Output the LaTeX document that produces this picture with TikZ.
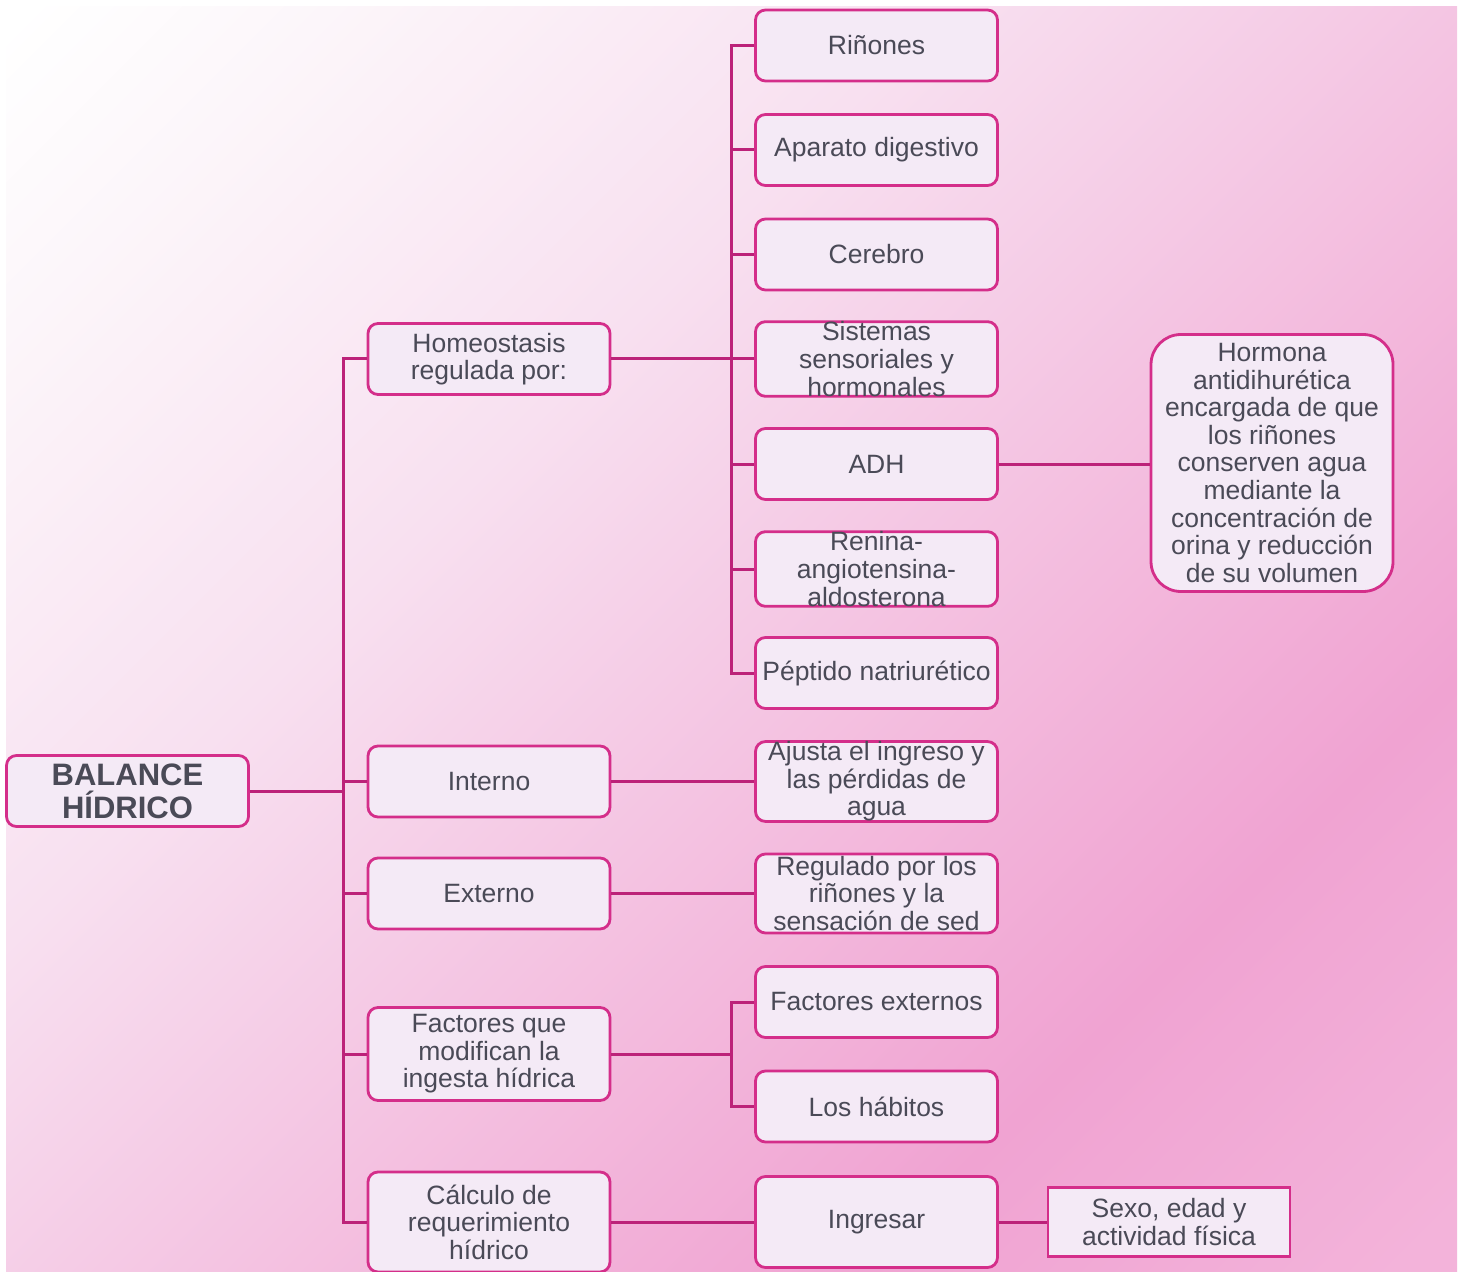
\documentclass[tikz,border=0pt]{standalone}
\usepackage{fontspec}
\setsansfont{Liberation Sans}
\usetikzlibrary{positioning}
\definecolor{bhLine}{HTML}{BC2279}
\definecolor{bhEdge}{HTML}{D42E8A}
\definecolor{bhFill}{HTML}{F4EAF6}
\definecolor{bhText}{HTML}{4A4A57}
\definecolor{bhBgA}{HTML}{FCF6FA}
\definecolor{bhBgB}{HTML}{F8E0F0}
\definecolor{bhBgC}{HTML}{F5CCE6}
\definecolor{bhBgD}{HTML}{F2B0D8}
\definecolor{bhBgE}{HTML}{F0A3D2}
\definecolor{bhBgF}{HTML}{F3B3DA}
\pgfdeclarehorizontalshading{bhBack}{100bp}{color(0bp)=(white); color(15bp)=(white);
  color(23bp)=(bhBgA); color(39bp)=(bhBgB); color(49bp)=(bhBgC); color(63bp)=(bhBgD);
  color(70bp)=(bhBgE); color(84bp)=(bhBgF); color(100bp)=(bhBgF)}
\tikzset{
  every node/.style={font=\sffamily\fontsize{13.25}{13.8}\selectfont, text=bhText},
  conn/.style={draw=bhLine, line width=1.5pt},
  box/.style={draw=bhEdge, fill=bhFill, line width=1.4pt, rounded corners=5pt, inner sep=0pt,
              align=center, minimum width=121pt, minimum height=35.5pt},
  boxRoot/.style={box, font=\sffamily\bfseries\fontsize{15.5}{16.5}\selectfont},
  boxNote/.style={box, rounded corners=15pt, minimum height=128.5pt},
  boxFlat/.style={box, rounded corners=0pt, minimum height=34.5pt},
}

\begin{document}
\begin{tikzpicture}[x=0.5pt, y=-0.5pt]
  \useasboundingbox (0,0) rectangle (1465,1272);
  \shade[shading=bhBack, shading angle=-45] (6,7) rectangle (1457,1272);
  % root and first level
  \node[boxRoot] (bal) at (127.5,791) {BALANCE\\HÍDRICO};
  \node[box] (homeo) at (489,359) {Homeostasis\\regulada por:};
  \node[box] (int) at (489,781.5) {Interno};
  \node[box] (ext) at (489,893.5) {Externo};
  \node[box, minimum height=46.5pt] (fac) at (489,1054) {Factores que\\modifican la\\ingesta hídrica};
  \node[box, minimum height=50pt] (cal) at (489,1222) {Cálculo de\\requerimiento\\hídrico};
  % what regulates the homeostasis
  \node[box] (rin) at (876.5,45.5) {Riñones};
  \node[box] (dig) at (876.5,150) {Aparato digestivo};
  \node[box] (cer) at (876.5,254.5) {Cerebro};
  \node[box] (sis) at (876.5,359) {Sistemas\\sensoriales y\\hormonales};
  \node[box] (adh) at (876.5,464) {ADH};
  \node[box] (ren) at (876.5,569) {Renina-\\angiotensina-\\aldosterona};
  \node[box] (pep) at (876.5,673) {Péptido natriurético};
  \node[boxNote] (horm) at (1272,463)
    {Hormona\\antidihurética\\encargada de que\\los riñones\\conserven agua\\mediante la\\concentración de\\orina y reducción\\de su volumen};
  % the other branches
  \node[box, minimum height=39.5pt] (aju) at (876.5,781.5) {Ajusta el ingreso y\\las pérdidas de\\agua};
  \node[box, minimum height=39.5pt] (reg) at (876.5,893.5) {Regulado por los\\riñones y la\\sensación de sed};
  \node[box] (fext) at (876.5,1002) {Factores externos};
  \node[box] (hab) at (876.5,1106.5) {Los hábitos};
  \node[box, minimum height=45.5pt] (ing) at (876.5,1222) {Ingresar};
  \node[boxFlat] (sexo) at (1169,1222) {Sexo, edad y\\actividad física};
  % connectors
  \coordinate (j1) at (343,791);
  \coordinate (j2) at (731,359);
  \coordinate (j3) at (731,1054);
  \draw[conn] (bal.east) -- (j1);
  \foreach \n in {homeo,int,ext,fac,cal}
    \draw[conn] (j1) |- (\n.west);
  \draw[conn] (homeo.east) -- (j2);
  \foreach \n in {rin,dig,cer,sis,adh,ren,pep}
    \draw[conn] (j2) |- (\n.west);
  \draw[conn] (adh.east) -- (adh.east -| horm.west);
  \draw[conn] (int.east) -- (aju.west);
  \draw[conn] (ext.east) -- (reg.west);
  \draw[conn] (fac.east) -- (j3);
  \foreach \n in {fext,hab}
    \draw[conn] (j3) |- (\n.west);
  \draw[conn] (cal.east) -- (ing.west);
  \draw[conn] (ing.east) -- (sexo.west);
\end{tikzpicture}
\end{document}
